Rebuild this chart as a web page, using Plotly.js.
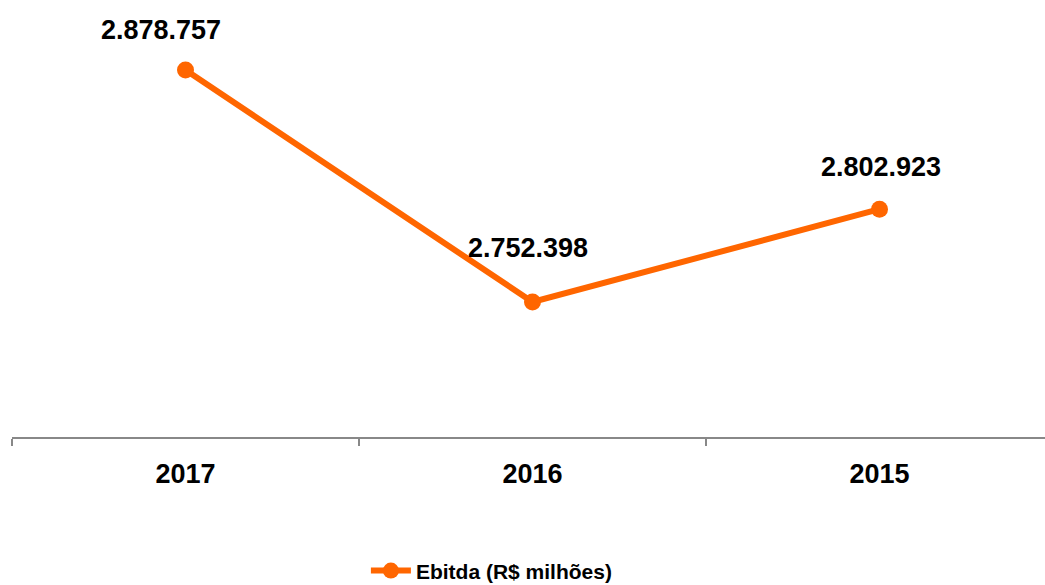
<!DOCTYPE html>
<html>
<head>
<meta charset="utf-8">
<script src="https://cdn.plot.ly/plotly-3.0.1.min.js"></script>
<style>html,body{margin:0;padding:0;overflow:hidden;background:#fff;}</style>
</head>
<body>
<div id="chart" style="width:1060px;height:585px;"></div>
<script>
const categories = ["2017", "2016", "2015"];
const ebitda = [2878757, 2752398, 2802923];
const labels = ["2.878.757", "2.752.398", "2.802.923"];
const seriesName = "Ebitda (R$ milhões)";

const color = "#FF6600";
const labelShift = [{x:-25,y:40}, {x:-5,y:54}, {x:1,y:42}];

const annotations = categories.map((c, i) => ({
  x: i, y: ebitda[i], xref: "x", yref: "y",
  text: labels[i], showarrow: false,
  xshift: labelShift[i].x, yshift: labelShift[i].y,
  font: {family: "Liberation Sans, Arial, sans-serif", size: 27, color: "#000", weight: "bold"}
}));

const trace = {
  x: categories, y: ebitda, type: "scatter", mode: "lines+markers",
  name: seriesName,
  line: {color: color, width: 6},
  marker: {color: color, size: 17},
  hoverinfo: "none"
};

const layout = {
  width: 1053, height: 585,
  margin: {l: 12, r: 0, t: 10, b: 148},
  paper_bgcolor: "#fff", plot_bgcolor: "#fff",
  showlegend: true,
  legend: {
    orientation: "h", x: 0.461, xanchor: "center",
    yref: "container", y: 0.024, yanchor: "middle",
    font: {family: "Liberation Sans, Arial, sans-serif", size: 21, color: "#000", weight: "bold"},
    itemwidth: 40
  },
  xaxis: {
    type: "category", showgrid: false, zeroline: false,
    showline: true, linecolor: "#888", linewidth: 2,
    ticks: "outside", tickson: "boundaries", ticklen: 7, tickcolor: "#888", tickwidth: 2,
    ticklabelstandoff: 12,
    tickfont: {family: "Liberation Sans, Arial, sans-serif", size: 27, color: "#000", weight: "bold"},
    range: [-0.5, 2.5], automargin: false
  },
  yaxis: {
    range: [2678877, 2911420], visible: false, showgrid: false, zeroline: false
  },
  annotations: annotations
};

Plotly.newPlot("chart", [trace], layout, {displayModeBar: false, staticPlot: true});
</script>
</body>
</html>
